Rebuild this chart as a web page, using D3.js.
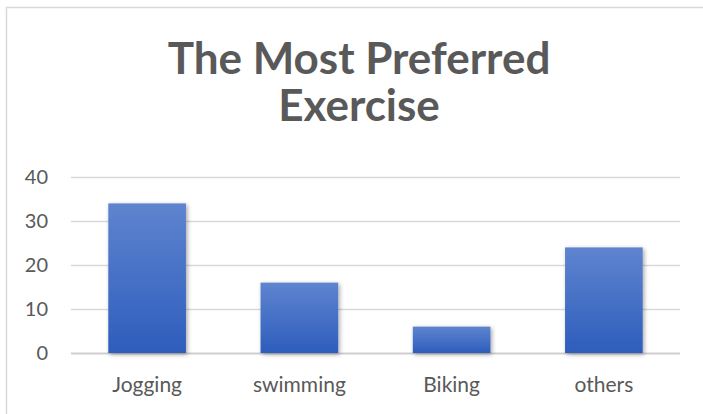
<!DOCTYPE html>
<html>
<head>
<meta charset="utf-8">
<script src="https://cdn.jsdelivr.net/npm/d3@7"></script>
<style>
  html, body { margin: 0; padding: 0; background: #fff; }
  svg { display: block; }
</style>
</head>
<body>
<svg id="chart" width="703" height="414"></svg>
<script>
// Survey results: preferred exercise
const categories = ["Jogging", "swimming", "Biking", "others"];
const values = [34, 16, 6, 24];
const yTicks = [0, 10, 20, 30, 40];
const titleLines = ["The Most Preferred", "Exercise"];

const svg = d3.select("#chart");
const plot = { left: 71, right: 680, top: 177, bottom: 353 };
const textColor = "#595959";
const font = "Lato, 'Open Sans', sans-serif";

// Chart area border
svg.append("rect")
  .attr("x", 6.5).attr("y", 7.5)
  .attr("width", 710).attr("height", 420)
  .attr("fill", "#fff")
  .attr("stroke", "#d9d9d9").attr("stroke-width", 1.5);

const defs = svg.append("defs");
const grad = defs.append("linearGradient")
  .attr("id", "barFill").attr("x1", 0).attr("y1", 0).attr("x2", 0).attr("y2", 1);
grad.append("stop").attr("offset", "0%").attr("stop-color", "#5f84cf");
grad.append("stop").attr("offset", "100%").attr("stop-color", "#2d5dbc");

const shadow = defs.append("filter").attr("id", "barShadow")
  .attr("x", "-20%").attr("y", "-20%").attr("width", "140%").attr("height", "140%");
shadow.append("feDropShadow")
  .attr("dx", 1.5).attr("dy", 1.5).attr("stdDeviation", 2)
  .attr("flood-color", "#000").attr("flood-opacity", 0.35);

// Title
svg.append("text")
  .attr("text-anchor", "middle")
  .attr("font-family", font).attr("font-weight", "bold")
  .attr("font-size", 44).attr("fill", textColor)
  .selectAll("tspan").data(titleLines).join("tspan")
  .attr("x", 359)
  .attr("y", (d, i) => 74 + i * 47)
  .text(d => d);

const x = d3.scaleBand()
  .domain(categories)
  .range([plot.left, plot.right])
  .paddingInner(0.49)
  .paddingOuter(0.245);

const y = d3.scaleLinear()
  .domain([0, 40])
  .range([plot.bottom, plot.top]);

// Gridlines and value labels
const yAxis = d3.axisLeft(y).tickValues(yTicks)
  .tickSize(-(plot.right - plot.left)).tickPadding(23);
const gy = svg.append("g")
  .attr("transform", `translate(${plot.left},0)`)
  .call(yAxis);
gy.select(".domain").remove();
gy.selectAll(".tick line")
  .attr("stroke", d => d === 0 ? "#cfcfcf" : "#d9d9d9")
  .attr("stroke-width", d => d === 0 ? 2 : 1.5);
gy.selectAll(".tick text")
  .attr("font-family", font).attr("font-size", 20)
  .attr("fill", textColor);

// Bars
svg.append("g").selectAll("rect")
  .data(categories.map((c, i) => ({ c, v: values[i] })))
  .join("rect")
  .attr("x", d => x(d.c))
  .attr("y", d => y(d.v))
  .attr("width", x.bandwidth())
  .attr("height", d => y(0) - y(d.v))
  .attr("fill", "url(#barFill)")
  .attr("filter", "url(#barShadow)");

// Category axis labels
const xAxis = d3.axisBottom(x).tickSize(0).tickPadding(24);
const gx = svg.append("g")
  .attr("transform", `translate(0,${plot.bottom})`)
  .call(xAxis);
gx.select(".domain").remove();
gx.selectAll(".tick text")
  .attr("font-family", font).attr("font-size", 21)
  .attr("fill", textColor);
</script>
</body>
</html>
